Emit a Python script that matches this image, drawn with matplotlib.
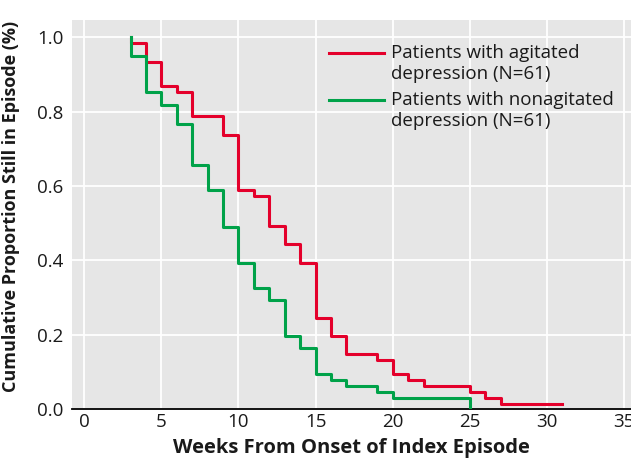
import matplotlib
matplotlib.use("Agg")
import matplotlib.pyplot as plt

# ── data ──────────────────────────────────────────────────────────────────────
agit_weeks = [3, 3, 4, 5, 6, 7, 9, 10, 11, 12, 13, 14, 15, 16, 17, 19, 20, 21, 22, 25, 26, 27, 31]
agit_surv  = [1.0, 0.984, 0.934, 0.869, 0.852, 0.787, 0.738, 0.590, 0.574, 0.492, 0.443,
              0.393, 0.246, 0.197, 0.148, 0.131, 0.095, 0.079, 0.063, 0.047, 0.030, 0.014, 0.014]

nonag_weeks = [3, 3, 4, 5, 6, 7, 8, 9, 10, 11, 12, 13, 14, 15, 16, 17, 19, 20, 25]
nonag_surv  = [1.0, 0.951, 0.852, 0.818, 0.768, 0.656, 0.588, 0.490, 0.393, 0.326, 0.293,
               0.197, 0.164, 0.093, 0.078, 0.062, 0.047, 0.029, 0.0]

labels = ["Patients with agitated\ndepression (N=61)",
          "Patients with nonagitated\ndepression (N=61)"]
x_ticks = [0, 5, 10, 15, 20, 25, 30, 35]
y_ticks = [0.0, 0.2, 0.4, 0.6, 0.8, 1.0]

RED   = "#E4002B"
GREEN = "#00A249"
FONT  = "Open Sans"

plt.rcParams["font.family"] = [FONT, "DejaVu Sans"]

fig = plt.figure(figsize=(6.31, 4.59), dpi=100)
ax = fig.add_axes([0.114, 0.109, 0.886, 0.847])
ax.set_facecolor("#E6E6E6")

ax.step(agit_weeks, agit_surv, where="post", color=RED, lw=2.2, zorder=3)
ax.step(nonag_weeks, nonag_surv, where="post", color=GREEN, lw=2.2, zorder=3)

ax.set_xlim(-0.8, 35.45)
ax.set_ylim(0, 1.046)
ax.set_xticks(x_ticks)
ax.set_yticks(y_ticks)
ax.set_yticklabels([f"{v:.1f}" for v in y_ticks])
ax.tick_params(length=0, labelsize=13.5, colors="#1a1a1a")
ax.tick_params(axis="y", pad=6)
ax.tick_params(axis="x", pad=3)
ax.grid(True, color="white", lw=1.3)
ax.set_axisbelow(True)
for s in ["top", "right", "left"]:
    ax.spines[s].set_visible(False)
ax.spines["bottom"].set_color("black")
ax.spines["bottom"].set_linewidth(1.3)

ax.set_xlabel("Weeks From Onset of Index Episode", fontsize=14.5, fontweight="bold",
              labelpad=5, color="#1a1a1a")
ax.set_ylabel("Cumulative Proportion Still in Episode (%)", fontsize=13, fontweight="bold",
              color="#1a1a1a")
ax.yaxis.set_label_coords(-0.092, 0.52)

# legend drawn by hand so the line sits on the first text line
for col, lab, yy in [(RED, labels[0], 0.916), (GREEN, labels[1], 0.794)]:
    ax.plot([0.46, 0.558], [yy, yy], transform=ax.transAxes, color=col, lw=2.2, clip_on=False)
    ax.text(0.571, yy + 0.023, lab, transform=ax.transAxes, fontsize=13.5,
            va="top", ha="left", linespacing=1.22, color="#1a1a1a")

fig.savefig("out.png", dpi=100)
